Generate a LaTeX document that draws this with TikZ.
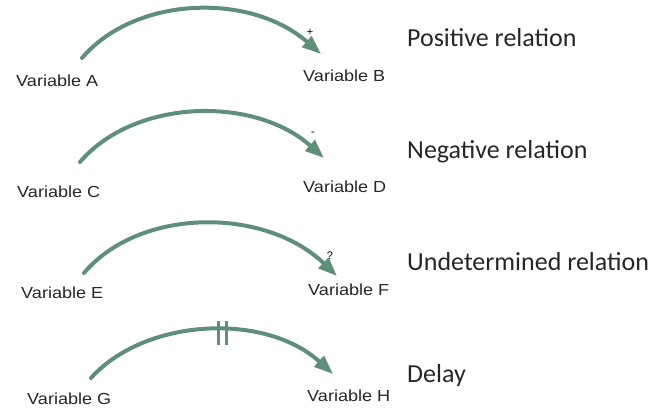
\documentclass[tikz,border=0pt]{standalone}
\usepackage{fontspec}
\setmainfont{Liberation Sans}
\newfontfamily\legendfont{Carlito}
\usetikzlibrary{arrows.meta}
\definecolor{linkgreen}{RGB}{95,142,122}
\tikzset{
  varlabel/.style={anchor=base west, inner sep=0pt, font=\fontsize{16}{18}\selectfont, xscale=1.13, text=black!85},
  legend/.style={anchor=base west, inner sep=0pt, font=\legendfont\fontsize{26}{30}\selectfont, text=black!85},
  link/.style={draw=linkgreen, line width=4pt, line cap=round, -{Triangle[length=19pt,width=14pt]}},
  sign/.style={inner sep=0pt, font=\fontsize{11}{12}\selectfont},
  delaymark/.style={draw=linkgreen, line width=3pt}
}
\begin{document}
\begin{tikzpicture}[x=1pt,y=-1pt]
\useasboundingbox (0,0) rectangle (672,409);

% positive link
\node[varlabel] (va) at (16,87) {Variable A};
\node[varlabel] (vb) at (303,82) {Variable B};
\coordinate (a0) at (82,58);
\coordinate (b0) at (321,54);
\draw[link] (a0) .. controls (135,-4) and (250,-8) .. (b0);
\node[sign] (plus) at (310,32) {+};
\node[legend] (lpos) at (407,47) {Positive relation};

% negative link
\node[varlabel] (vc) at (17,197) {Variable C};
\node[varlabel] (vd) at (303,193) {Variable D};
\coordinate (c0) at (80,162);
\coordinate (d0) at (324,158);
\draw[link] (c0) .. controls (135,98) and (255,96) .. (d0);
\node[sign] (minus) at (313,134) {-};
\node[legend] (lneg) at (407,159) {Negative relation};

% undetermined link
\node[varlabel] (ve) at (21,298) {Variable E};
\node[varlabel] (vf) at (308,295) {Variable F};
\coordinate (e0) at (84,273);
\coordinate (f0) at (337,276);
\draw[link] (e0) .. controls (140,207) and (265,207) .. (f0);
\node[sign] (quest) at (330,256) {?};
\node[legend] (lund) at (407,270) {Undetermined relation};

% delayed link
\node[varlabel] (vg) at (27,404) {Variable G};
\node[varlabel] (vh) at (307,401) {Variable H};
\coordinate (g0) at (91,378);
\coordinate (h0) at (333,374);
\draw[link] (g0) .. controls (145,318) and (265,312) .. (h0);
\draw[delaymark] (218,321) -- (218,345);
\draw[delaymark] (226,321) -- (226,345);
\node[legend] (ldel) at (407,382) {Delay};
\end{tikzpicture}
\end{document}
